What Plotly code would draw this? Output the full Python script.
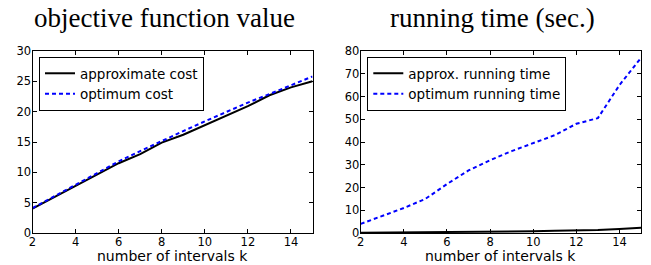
import plotly.graph_objects as go

W, H = 651, 265

k = [2, 3, 4, 5, 6, 7, 8, 9, 10, 11, 12, 13, 14, 15]
approx_cost = [4.0, 5.9, 7.7, 9.7, 11.5, 13.0, 14.9, 16.2, 17.8, 19.3, 20.9, 22.7, 24.0, 25.0]
optimum_cost = [4.1, 6.0, 7.9, 9.9, 11.8, 13.5, 15.2, 16.8, 18.4, 20.0, 21.5, 22.9, 24.4, 25.8]
approx_time = [0.1, 0.15, 0.2, 0.3, 0.4, 0.5, 0.6, 0.7, 0.8, 1.0, 1.1, 1.3, 1.8, 2.3]
optimum_time = [4.0, 7.5, 11.0, 15.0, 21.5, 27.5, 32.0, 36.0, 39.5, 43.0, 48.0, 50.5, 65.0, 77.0]

left_ticks = [0, 5, 10, 15, 20, 25, 30]
right_ticks = [0, 10, 20, 30, 40, 50, 60, 70, 80]
x_ticks = [2, 4, 6, 8, 10, 12, 14]

titles = ["objective function value", "running time (sec.)"]
xlabel = "number of intervals k"

SANS = "DejaVu Sans"
SERIF = "Liberation Serif"

fig = go.Figure()
fig.add_trace(go.Scatter(x=k, y=approx_cost, mode="lines", name="approximate cost",
                         line=dict(color="black", width=2), xaxis="x", yaxis="y", legend="legend"))
fig.add_trace(go.Scatter(x=k, y=optimum_cost, mode="lines", name="optimum cost",
                         line=dict(color="#0000ff", width=2, dash="4px,3px"), xaxis="x", yaxis="y", legend="legend"))
fig.add_trace(go.Scatter(x=k, y=approx_time, mode="lines", name="approx. running time",
                         line=dict(color="black", width=2), xaxis="x2", yaxis="y2", legend="legend2"))
fig.add_trace(go.Scatter(x=k, y=optimum_time, mode="lines", name="optimum running time",
                         line=dict(color="#0000ff", width=2, dash="4px,3px"), xaxis="x2", yaxis="y2", legend="legend2"))

top, bottom = 51, 233
yd = [(H - bottom) / H, (H - top) / H]
xd1 = [32.5 / W, 312.5 / W]
xd2 = [360.7 / W, 641 / W]

axis_common = dict(showgrid=False, zeroline=False, showline=True, linecolor="black", linewidth=1,
                   mirror="ticks", ticks="inside", ticklen=4, tickwidth=1, tickcolor="black",
                   automargin=False, ticklabelstandoff=-2,
                   tickfont=dict(family=SANS, size=11.5, color="black"))

legend_common = dict(yanchor="top", xanchor="left", y=(H - 57) / H,
                     bordercolor="black", borderwidth=1, bgcolor="white",
                     font=dict(family=SANS, size=13.5, color="black"))

fig.update_layout(
    width=W, height=H, margin=dict(l=0, r=0, t=0, b=0, autoexpand=False),
    paper_bgcolor="white", plot_bgcolor="white",
    xaxis=dict(domain=xd1, range=[2, 15], tickvals=x_ticks, anchor="y", **axis_common),
    yaxis=dict(domain=yd, range=[0, 30], tickvals=left_ticks, anchor="x", **axis_common),
    xaxis2=dict(domain=xd2, range=[2, 15], tickvals=x_ticks, anchor="y2", **axis_common),
    yaxis2=dict(domain=yd, range=[0, 80], tickvals=right_ticks, anchor="x2", **axis_common),
    legend=dict(x=39 / W, **legend_common),
    legend2=dict(x=367.3 / W, **legend_common),
    showlegend=True,
    annotations=[
        dict(text=titles[0], x=164 / W, y=1 - 18 / H, xref="paper", yref="paper",
             xanchor="center", yanchor="middle", showarrow=False,
             font=dict(family=SERIF, size=27, color="black")),
        dict(text=titles[1], x=492.8 / W, y=1 - 18 / H, xref="paper", yref="paper",
             xanchor="center", yanchor="middle", showarrow=False,
             font=dict(family=SERIF, size=27, color="black")),
        dict(text=xlabel, x=sum(xd1) / 2, y=1 - 255.5 / H, xref="paper", yref="paper",
             xanchor="center", yanchor="middle", showarrow=False,
             font=dict(family=SANS, size=14, color="black")),
        dict(text=xlabel, x=sum(xd2) / 2, y=1 - 255.5 / H, xref="paper", yref="paper",
             xanchor="center", yanchor="middle", showarrow=False,
             font=dict(family=SANS, size=14, color="black")),
    ],
)

fig.write_html("out.html", config={"displayModeBar": False},
               post_script="document.body.style.margin='0';document.body.style.overflow='hidden';")
